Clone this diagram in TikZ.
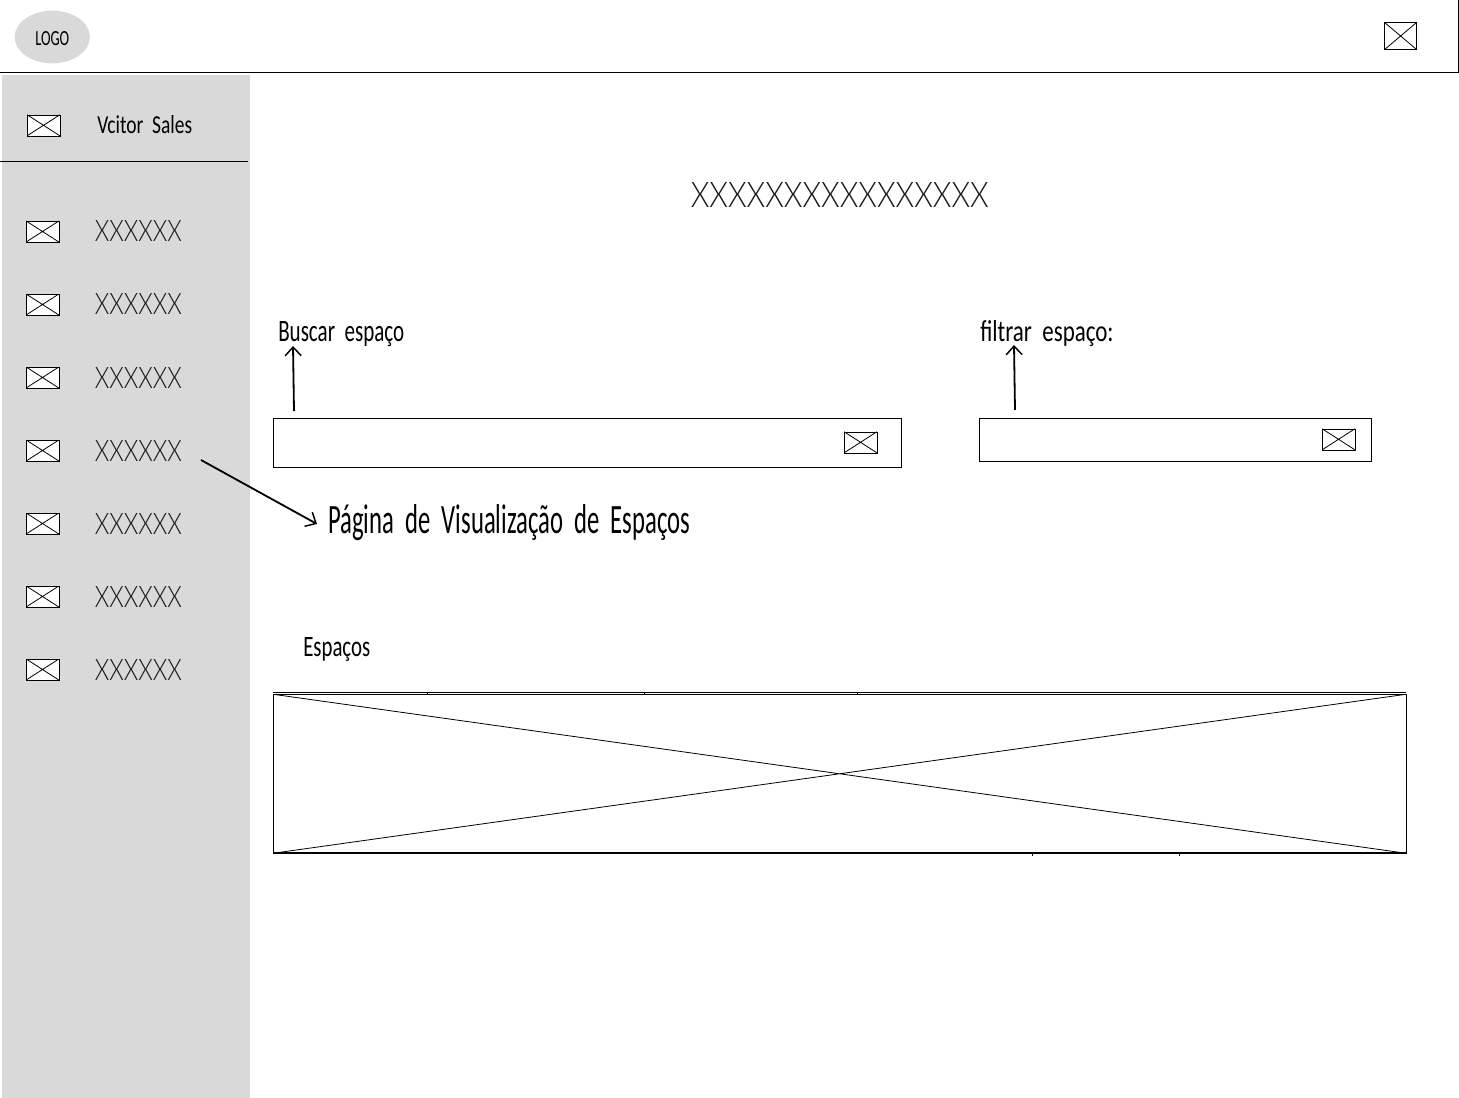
\documentclass[tikz,border=0pt]{standalone}
\usepackage{graphicx}
\usepackage{fontspec}
\setmainfont{Carlito}[WordSpace=2]
\newfontfamily\thinfont[UprightFont=* Light]{Lato}
\usetikzlibrary{arrows.meta,shapes.geometric}
\newcommand{\fitbox}[3]{\resizebox{#1pt}{#2pt}{#3}}
\tikzset{
  x=0.75pt,y=-0.75pt,
  line width=0.75pt,
  imgbox/.style={draw=black,fill=white,inner sep=0pt,minimum width=24.5pt,minimum height=15.75pt,
    path picture={\draw[line width=0.6pt] (path picture bounding box.north west)--(path picture bounding box.south east)
      (path picture bounding box.north east)--(path picture bounding box.south west);}},
  label text/.style={inner sep=0pt,anchor=base west,text=black},
  thin text/.style={inner sep=0pt,anchor=base west,text=black!90},
  callout/.style={draw=black,line width=1.35pt,-{Straight Barb[length=6.5pt,width=12pt,line width=1.1pt]}},
}
\definecolor{panel}{HTML}{D9D9D9}
\begin{document}
\begin{tikzpicture}
\useasboundingbox (0,0) rectangle (1459,1098);
% header
\draw[black] (-2,-2) rectangle (1458.5,72.5);
\node[ellipse,fill=panel,inner sep=0pt,minimum width=56.5pt,minimum height=39.5pt] (logo) at (52.3,37) {};
\node[label text] (logotext) at (35,45.5) {\fitbox{25.5}{10.5}{LOGO}};
\node[imgbox,minimum width=24pt,minimum height=20.25pt] (headimg) at (1400.6,36) {};
% sidebar
\fill[panel] (2,75) rectangle (250,1098);
\coordinate (divl) at (0,161.5);
\coordinate (divr) at (248,161.5);
\draw[black] (divl)--(divr);
\node[imgbox] (userimg) at (43.5,125.3) {};
\node[label text] (user) at (97,134) {\fitbox{71.25}{13.5}{Vcitor Sales}};
\foreach \k/\y in {1/231.5,2/304.5,3/377.5,4/450.5,5/523.5,6/596.5,7/669.5}{
  \node[imgbox] (img\k) at (42.5,\y) {};
  \node[thin text] (item\k) at (94.5,\y+10.5) {\fitbox{65.25}{15.75}{\thinfont XXXXXX}};
}
% title
\node[thin text] (title) at (690.5,208) {\fitbox{223.5}{18.75}{\thinfont XXXXXXXXXXXXXXXX}};
% search
\node[label text] (buscar) at (278,341) {\fitbox{94.5}{15}{Buscar espaço}};
\node[label text] (filtrar) at (980,341) {\fitbox{100}{15.75}{filtrar espaço:}};
\node[draw=black,fill=white,inner sep=0pt,anchor=north west,minimum width=471pt,minimum height=36.75pt] (searchbox) at (272.8,417.8) {};
\node[draw=black,fill=white,inner sep=0pt,anchor=north west,minimum width=294pt,minimum height=32pt] (filterbox) at (978.8,418) {};
\node[imgbox] (searchimg) at (860.5,442.3) {};
\node[imgbox] (filterimg) at (1338.5,439.3) {};
\coordinate (a1s) at (294,411);
\coordinate (a1e) at (293,346);
\coordinate (a2s) at (1015,410);
\coordinate (a2e) at (1014,345);
\coordinate (a3s) at (201,460);
\coordinate (a3e) at (317,524);
\draw[callout] (a1s)--(a1e);
\draw[callout] (a2s)--(a2e);
\draw[callout] (a3s)--(a3e);
\node[label text] (pagina) at (328,533) {\fitbox{271.5}{21.75}{Página de Visualização de Espaços}};
% table
\node[label text] (espacos) at (303,656) {\fitbox{50.25}{14.25}{Espaços}};
\coordinate (tl) at (273,692.5);
\coordinate (tr) at (1406,692.5);
\draw[black] (tl)--(tr);
\foreach \x in {427,644,857}{\draw[black,line width=0.6pt] (\x,691.5)--(\x,694);}
\foreach \x in {1032,1179}{\draw[black,line width=0.6pt] (\x,853)--(\x,855.5);}
\node[imgbox,minimum width=849.75pt,minimum height=119.25pt,anchor=north west] (tableimg) at (272.8,694) {};
\coordinate (bl) at (273,853);
\coordinate (br) at (1406,853);
\draw[black,line width=1.2pt] (bl)--(br);
\end{tikzpicture}
\end{document}
